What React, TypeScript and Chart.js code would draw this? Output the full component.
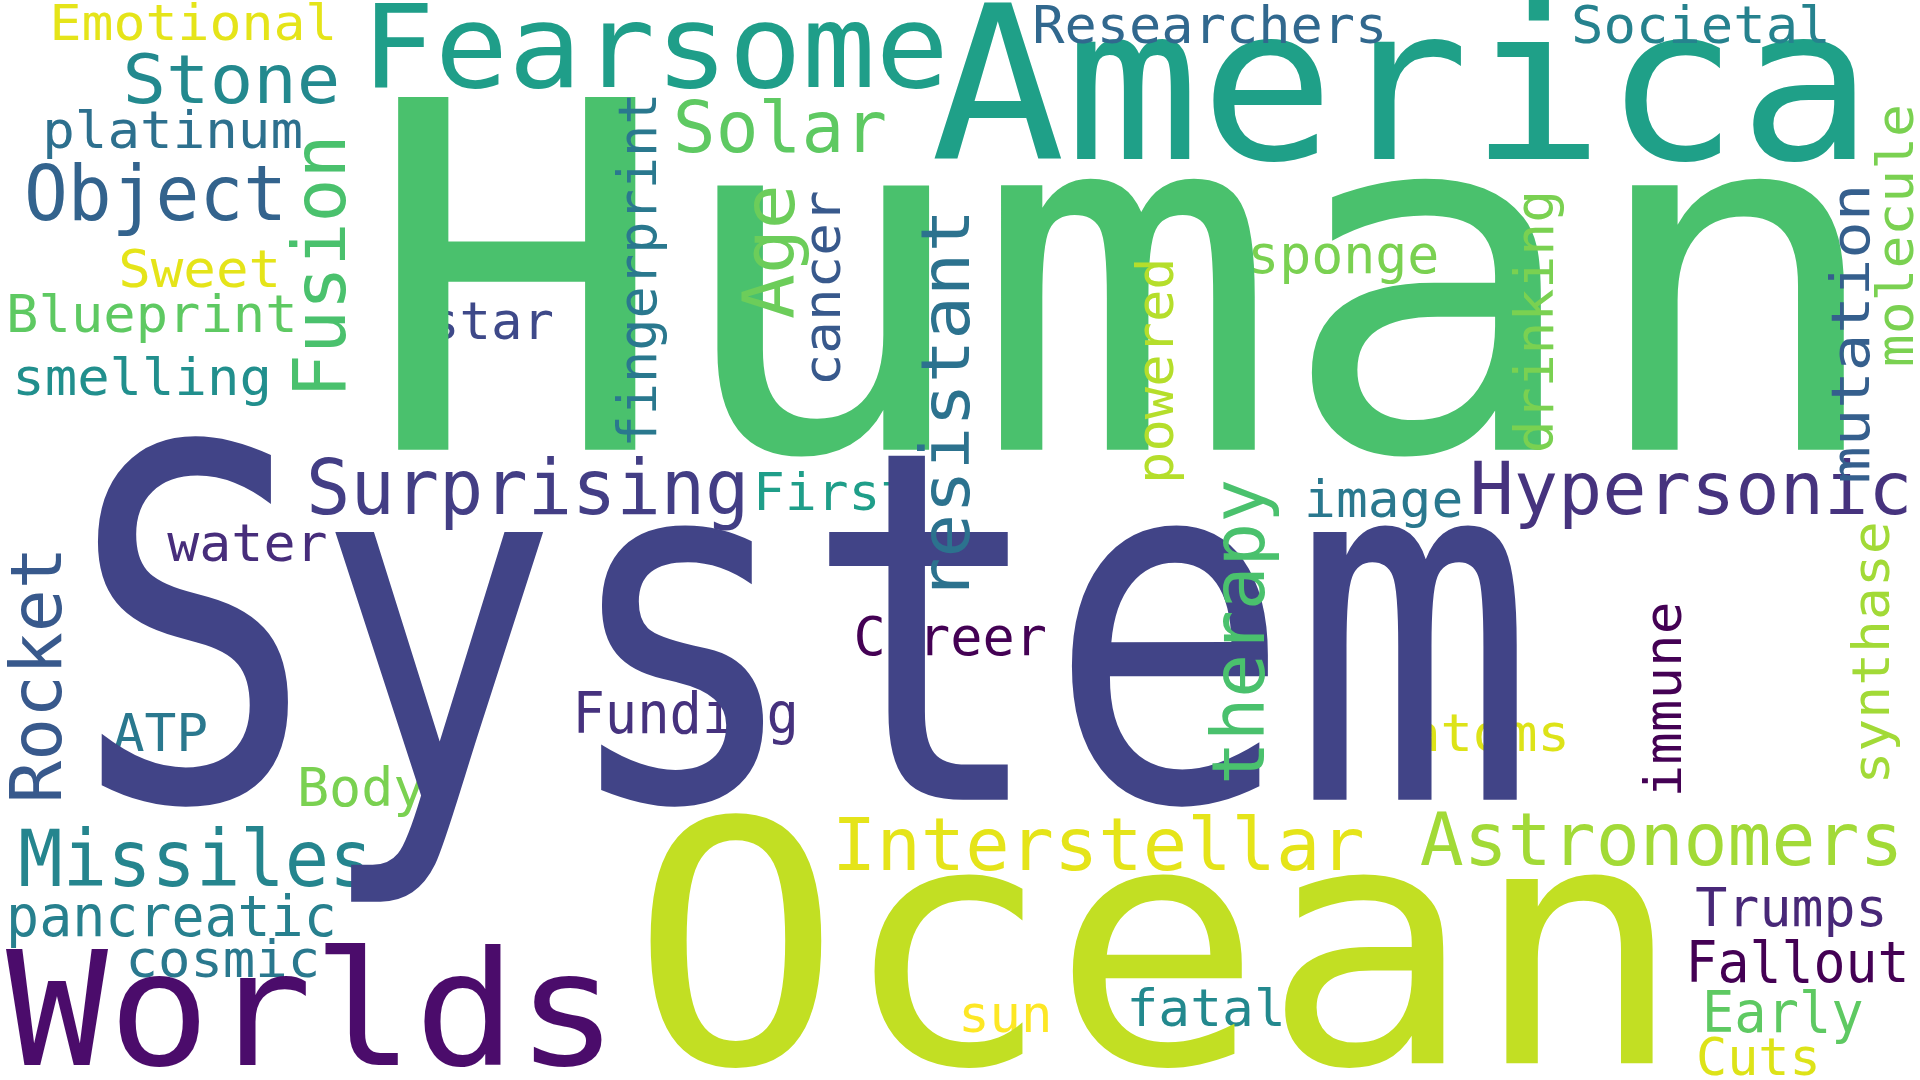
import React, { useEffect, useRef } from "react";
import Chart from "chart.js/auto";

// word cloud laid out on a 1568 x 880 grid; x/y are the centres of each word
const W = 1568;
const H = 880;

const words = [
  "Emotional", "Fearsome", "America", "Researchers", "Societal", "Stone", "platinum", "Solar",
  "Object", "Sweet", "Blueprint", "star", "sponge", "smelling", "Surprising", "First",
  "image", "Hypersonic", "water", "Career", "Funding", "ATP", "atoms", "Body",
  "Missiles", "Interstellar", "Astronomers", "pancreatic", "Trumps", "cosmic", "Fallout", "Worlds",
  "sun", "fatal", "Early", "Cuts", "Ocean", "Human", "System",
  "Fusion", "fingerprint", "Age", "cancer", "resistant", "powered", "drinking", "therapy",
  "mutation", "molecule", "Rocket", "immune", "synthase",
];
const xs = [
  158, 535, 1145, 988, 1389, 189, 141, 637, 127, 163, 124, 401, 1097, 116, 431, 680,
  1130, 1381, 202, 776, 560, 131, 1216, 295, 160, 897, 1357, 140, 1463, 182, 1468, 255,
  821, 985, 1456, 1436, 945, 920, 656,
  266, 524, 633, 675, 777, 947, 1257, 1017, 1515, 1551, 35, 1362, 1532,
];
const ys = [
  22, 46, 84, 24, 24, 70, 110, 109, 163, 223, 260, 265, 211, 311, 403, 405,
  410, 403, 446, 522, 585, 601, 601, 645, 705, 693, 689, 751, 743, 785, 788, 834,
  830, 825, 829, 865, 795, 264, 548,
  217, 220, 205, 235, 330, 302, 262, 515, 272, 192, 550, 570, 532,
];
const lengths = [
  235, 480, 770, 290, 212, 178, 213, 175, 215, 133, 238, 103, 157, 212, 362, 130,
  130, 362, 131, 158, 185, 78, 132, 105, 290, 435, 395, 270, 157, 159, 183, 500,
  77, 130, 132, 102, 860, 1245, 1197,
  215, 290, 110, 160, 320, 185, 215, 250, 245, 215, 210, 160, 215,
];
const sizes = [
  40, 95, 175, 42, 42, 55, 42, 58, 62, 42, 42, 42, 44, 42, 62, 42,
  42, 60, 42, 44, 46, 42, 42, 44, 64, 60, 60, 46, 44, 42, 46, 130,
  42, 42, 46, 42, 275, 395, 400,
  60, 44, 58, 42, 55, 42, 44, 60, 44, 42, 58, 42, 42,
];
const vertical = [
  0, 0, 0, 0, 0, 0, 0, 0, 0, 0, 0, 0, 0, 0, 0, 0,
  0, 0, 0, 0, 0, 0, 0, 0, 0, 0, 0, 0, 0, 0, 0, 0,
  0, 0, 0, 0, 0, 0, 0,
  1, 1, 1, 1, 1, 1, 1, 1, 1, 1, 1, 1, 1,
];
const colors = [
  "#e5e419", "#1f9e89", "#1fa088", "#31688e", "#26828e", "#23898e", "#2d708e", "#5ec962",
  "#33638d", "#e5e419", "#5ec962", "#3e4989", "#7ad151", "#218f8d", "#433e85", "#1f9e89",
  "#2a788e", "#46337e", "#472d7b", "#440154", "#46327e", "#2a788e", "#dde318", "#7ad151",
  "#25858e", "#e5e419", "#a2da37", "#27808e", "#482878", "#2a788e", "#440154", "#4b0c6b",
  "#fde725", "#23898e", "#5ec962", "#dde318", "#c2df23", "#4ac16d", "#414487",
  "#4ac16d", "#2a788e", "#6ccd5a", "#38598c", "#2c728e", "#b5de2b", "#7ad151", "#4ac16d",
  "#355f8d", "#7ad151", "#38598c", "#440154", "#a2da37",
];

const wordPlugin = {
  id: "words",
  afterDatasetsDraw(chart: Chart) {
    const ctx = chart.ctx;
    const meta = chart.getDatasetMeta(0);
    const k = chart.scales.x.width / W;
    ctx.save();
    meta.data.forEach((pt: any, i: number) => {
      ctx.save();
      ctx.translate(pt.x, pt.y);
      if (vertical[i]) ctx.rotate(-Math.PI / 2);
      ctx.font = `${sizes[i] * k}px "DejaVu Sans Mono"`;
      ctx.textAlign = "center";
      ctx.textBaseline = "middle";
      const m = ctx.measureText(words[i]).width;
      ctx.scale((lengths[i] * k) / m, 1);
      ctx.fillStyle = colors[i];
      ctx.fillText(words[i], 0, 0);
      ctx.restore();
    });
    ctx.restore();
  },
};

export default function App() {
  const canvasRef = useRef<HTMLCanvasElement>(null);

  useEffect(() => {
    if (!canvasRef.current) return;
    const chart = new Chart(canvasRef.current, {
      type: "scatter",
      data: {
        datasets: [
          {
            data: xs.map((x, i) => ({ x, y: ys[i] })),
            pointRadius: 0,
          },
        ],
      },
      options: {
        animation: false,
        responsive: true,
        maintainAspectRatio: false,
        layout: { padding: 0 },
        plugins: { legend: { display: false }, tooltip: { enabled: false } },
        scales: {
          x: { type: "linear", min: 0, max: W, display: false },
          y: { type: "linear", min: 0, max: H, reverse: true, display: false },
        },
      },
      plugins: [wordPlugin],
    });
    return () => chart.destroy();
  }, []);

  return (
    <div style={{ position: "fixed", inset: 0, width: 1920, height: 1080, background: "#fff" }}>
      <canvas ref={canvasRef} />
    </div>
  );
}
